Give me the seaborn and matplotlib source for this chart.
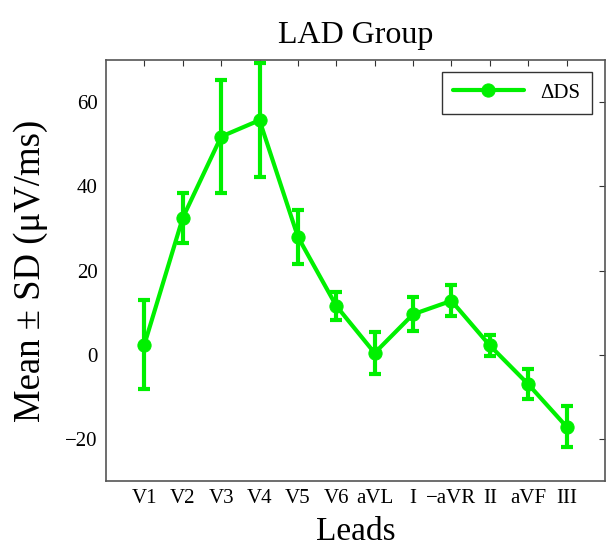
import matplotlib
matplotlib.use("Agg")
import matplotlib.pyplot as plt
import seaborn as sns
import pandas as pd

# Lead names and per-lead statistics of the ΔDS measure
leads = ["V1", "V2", "V3", "V4", "V5", "V6", "aVL", "I", "\u2212aVR", "II", "aVF", "III"]
mean_ds = [2.4, 32.5, 51.8, 55.7, 28.0, 11.6, 0.4, 9.6, 12.8, 2.2, -7.0, -17.1]
sd_ds = [10.5, 6.0, 13.4, 13.6, 6.4, 3.4, 5.0, 4.0, 3.7, 2.5, 3.6, 4.9]

sns.set_theme(style="white")
plt.rcParams["font.family"] = ["Liberation Serif", "DejaVu Serif"]
plt.rcParams["text.color"] = "black"
plt.rcParams["axes.labelcolor"] = "black"
plt.rcParams["xtick.color"] = "black"
plt.rcParams["ytick.color"] = "black"

green = "#00f000"
pos = list(range(1, len(leads) + 1))
df = pd.DataFrame({"pos": pos, "mean": mean_ds, "sd": sd_ds})

fig = plt.figure(figsize=(6.07, 5.52), dpi=100)
ax = fig.add_axes([0.1746, 0.1286, 0.822, 0.7627])

ax.errorbar(df["pos"], df["mean"], yerr=df["sd"], fmt="none",
            ecolor=green, elinewidth=3, capsize=4.5, capthick=3, zorder=2)
sns.lineplot(data=df, x="pos", y="mean", ax=ax, color=green, linewidth=3,
             marker="o", markersize=9.5, markeredgecolor=green,
             label="\u0394DS", zorder=3)

ax.set_xlim(0, 13)
ax.set_ylim(-30, 70)
ax.set_xticks(pos)
ax.set_xticklabels(leads)
ax.set_yticks([-20, 0, 20, 40, 60])
ax.tick_params(direction="in", length=4, width=0.8, color="#333333",
               labelsize=15, top=True, right=True, pad=6)
for s in ax.spines.values():
    s.set_color("#555555")
    s.set_linewidth(1.2)

ax.set_title("LAD Group", fontsize=23, pad=12)
ax.set_xlabel("Leads", fontsize=24, labelpad=6)
ax.set_ylabel("Mean \u00b1 SD (\u03bcV/ms)", fontsize=26.5, labelpad=12)

leg = ax.legend(loc="upper right", fontsize=15, frameon=True, fancybox=False,
                edgecolor="black", handlelength=3.4, borderpad=0.55,
                bbox_to_anchor=(0.995, 0.997))
leg.get_frame().set_linewidth(1.0)

fig.savefig("out.png", dpi=100, facecolor="white")
